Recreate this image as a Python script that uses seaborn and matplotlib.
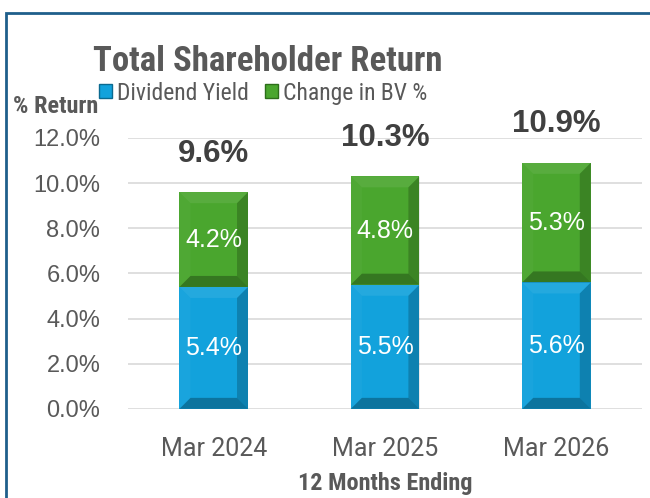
import matplotlib
matplotlib.use("Agg")
import matplotlib.pyplot as plt
import matplotlib.patches as mpatches
from matplotlib.ticker import PercentFormatter
import numpy as np
import pandas as pd
import seaborn as sns

# data
periods = ["Mar 2024", "Mar 2025", "Mar 2026"]
dividend_yield = [5.4, 5.5, 5.6]
change_in_bv = [4.2, 4.8, 5.3]

sns.set_theme(style="white")
plt.rcParams['font.family'] = ['Roboto Condensed', 'DejaVu Sans']

blue = "#12a2dc"
green = "#4aa62e"
grey = "#595959"
arial = ["Liberation Sans", "DejaVu Sans"]

total = [d + c for d, c in zip(dividend_yield, change_in_bv)]
df = pd.DataFrame({"period": periods, "div": dividend_yield,
                   "bv": change_in_bv, "total": total})

fig = plt.figure(figsize=(6.5, 4.98), dpi=100)
ax = fig.add_axes([0.197, 0.179, 0.791, 0.544])

# stacked look: total (green) behind, dividend (blue) in front
sns.barplot(data=df, x="period", y="total", color=green, width=0.4,
            saturation=1, ax=ax, edgecolor="none")
sns.barplot(data=df, x="period", y="div", color=blue, width=0.4,
            saturation=1, ax=ax, edgecolor="none")

ax.set_ylim(0, 12)
ax.set_xlim(-0.5, 2.5)
ax.set_yticks(np.arange(0, 12.1, 2))
ax.yaxis.set_major_formatter(PercentFormatter(decimals=1))
ax.grid(axis="y", color="#d9d9d9", linewidth=1.2, zorder=0)
ax.set_axisbelow(True)
for s in ax.spines.values():
    s.set_visible(False)
ax.tick_params(axis="both", length=0, labelcolor=grey)
ax.tick_params(axis="y", pad=20, labelsize=17)
ax.tick_params(axis="x", pad=20, labelsize=18)
for lab in ax.get_yticklabels():
    lab.set_family(arial)
for lab in ax.get_xticklabels():
    lab.set_family(["Roboto", "DejaVu Sans"])
ax.set_xlabel("12 Months Ending", fontsize=17.5, fontweight="bold", color=grey, labelpad=8)
ax.set_ylabel("")

# bevel shading on each segment
fig.canvas.draw()
inv = ax.transData.inverted()
bev = 11  # px
segments = []
for i in range(len(periods)):
    segments.append((i, 0, dividend_yield[i]))
    segments.append((i, dividend_yield[i], total[i]))
for i, y0, y1 in segments:
    (px0, py0) = ax.transData.transform((i - 0.2, y0))
    (px1, py1) = ax.transData.transform((i + 0.2, y1))
    outer = [(px0, py0), (px1, py0), (px1, py1), (px0, py1)]
    inner = [(px0 + bev, py0 + bev), (px1 - bev, py0 + bev),
             (px1 - bev, py1 - bev), (px0 + bev, py1 - bev)]
    # bottom, right, top, left
    shades = [("black", 0.28), ("black", 0.20), ("white", 0.08), ("white", 0.03)]
    for k, (col, a) in enumerate(shades):
        pts = [outer[k], outer[(k + 1) % 4], inner[(k + 1) % 4], inner[k]]
        pts = inv.transform(pts)
        ax.add_patch(mpatches.Polygon(pts, closed=True, facecolor=col, alpha=a,
                                      edgecolor="none", zorder=3))

# segment labels
for i in range(len(periods)):
    ax.text(i, dividend_yield[i] / 2, f"{dividend_yield[i]:.1f}%", ha="center", va="center",
            color="white", fontsize=18, family=arial, zorder=4)
    ax.text(i, dividend_yield[i] + change_in_bv[i] / 2, f"{change_in_bv[i]:.1f}%",
            ha="center", va="center", color="white", fontsize=18, family=arial, zorder=4)
    ax.annotate(f"{total[i]:.1f}%", (i, total[i]), xytext=(0, 17), textcoords="offset points",
                ha="center", va="bottom", fontsize=22.5, fontweight="bold", color="#404040",
                family=arial, annotation_clip=False)

fig.text(0.412, 0.877, "Total Shareholder Return", ha="center", va="center",
         fontsize=25, fontweight="bold", color=grey)
fig.text(0.085, 0.787, "% Return", ha="center", va="center",
         fontsize=17.5, fontweight="bold", color=grey)

handles = [mpatches.Patch(facecolor=blue, edgecolor="#0b6a90", label="Dividend Yield"),
           mpatches.Patch(facecolor=green, edgecolor="#2d6e1a", label="Change in BV %")]
fig.legend(handles=handles, loc="center left", bbox_to_anchor=(0.152, 0.813), ncol=2,
           frameon=False, fontsize=17, handlelength=0.55, handleheight=0.55,
           handletextpad=0.2, columnspacing=0.7, labelcolor=grey, borderpad=0,
           borderaxespad=0)

# outer frame
fig.patches.append(mpatches.Rectangle((6 / 650, -0.1), 1.2, (498 - 13) / 498 + 0.1,
                                      transform=fig.transFigure, fill=False,
                                      edgecolor="#1f5f8b", linewidth=2))

fig.savefig("out.png", dpi=100)
